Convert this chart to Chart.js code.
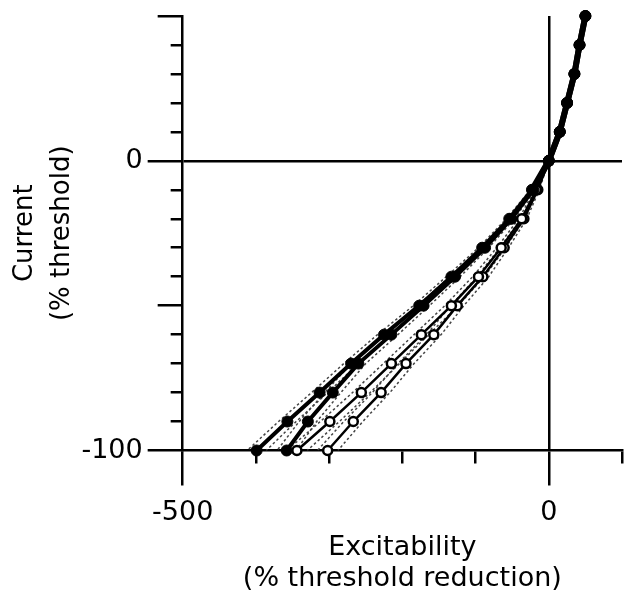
<!DOCTYPE html>
<html><head><meta charset="utf-8">
<script src="https://cdn.jsdelivr.net/npm/chart.js@4.4.1/dist/chart.umd.min.js"></script>
<style>html,body{margin:0;padding:0;background:#fff}#wrap{width:629px;height:600px}</style>
</head><body><div id="wrap"><canvas id="c" width="629" height="600"></canvas></div>
<script>
// Current levels (% threshold)
const currents = [50, 40, 30, 20, 10, 0, -10, -20, -30, -40, -50, -60, -70, -80, -90, -100];
// Threshold reduction (%) for each current level
const filledA = [50, 42, 35, 25, 15, 0, -23, -54, -91, -133, -177, -225, -270, -313, -357, -399];
const filledB = [50, 42, 35, 25, 15, 0, -21, -51, -87, -128, -171, -215, -260, -295, -329, -358];
const openC   = [50, 42, 35, 25, 15, 0, -17, -37, -65, -96, -133, -174, -215, -256, -299, -344];
const openD   = [50, 42, 35, 25, 15, 0, -15, -34, -61, -90, -125, -157, -195, -229, -267, -302];
// SEM half-widths (dashed lines) for current levels 0 ... -100
const semCurrents = [0, -10, -20, -30, -40, -50, -60, -70, -80, -90, -100];
const semA = [0, 2, 4, 5, 7, 8, 9, 10, 11, 12, 13];
const semB = [0, 2, 4, 5, 7, 8, 9, 10, 11, 12, 13];
const semC = [0, 2, 4, 6, 8, 9, 10, 11, 12, 13, 14];
const semD = [0, 2, 4, 6, 8, 9, 10, 11, 12, 13, 14];
// Tick labels
const xLabelled = [-500, 0];
const yLabelled = [0, -100];
const xMajor = [-500, 0];
const yMajor = [0, -100];
const yMid = [50, -50];

const FONT = 'DejaVu Sans';

function pts(vals) { return vals.map((v, i) => ({x: v, y: currents[i]})); }
function band(vals, sem, sign) {
  return semCurrents.map((c, i) => ({x: vals[currents.indexOf(c)] + sign * sem[i], y: c}));
}
const dashStyle = {borderColor: '#444', borderWidth: 1.5, borderDash: [2.5, 2.5], pointRadius: 0, showLine: true, order: 2, fill: false};
const bands = [];
[[filledA, semA], [filledB, semB], [openC, semC], [openD, semD]].forEach(([v, s]) => {
  bands.push(Object.assign({data: band(v, s, -1)}, dashStyle));
  bands.push(Object.assign({data: band(v, s, 1)}, dashStyle));
});
const thickTop = {borderWidth: c => (c.p0.parsed.y >= 0 ? 6 : undefined)};
const filledStyle = {showLine: true, borderColor: '#000', backgroundColor: '#000', borderWidth: 4,
  pointRadius: 5.5, pointBorderWidth: 1, pointBackgroundColor: '#000', pointBorderColor: '#000', order: 0, clip: false,
  segment: thickTop};
const openStyle = {showLine: true, borderColor: '#000', backgroundColor: '#fff', borderWidth: 2.5,
  pointRadius: 4.5, pointBorderWidth: 2.5, pointBackgroundColor: '#fff', pointBorderColor: '#000', order: 1, clip: false};

new Chart(document.getElementById('c'), {
  type: 'scatter',
  data: {
    datasets: [
      Object.assign({label: 'A', data: pts(filledA)}, filledStyle),
      Object.assign({label: 'B', data: pts(filledB)}, filledStyle),
      Object.assign({label: 'C', data: pts(openC)}, openStyle),
      Object.assign({label: 'D', data: pts(openD)}, openStyle),
      ...bands
    ]
  },
  options: {
    responsive: false,
    animation: false,
    devicePixelRatio: 1,
    layout: {padding: {left: 4, top: 0, right: 0, bottom: 4.5}},
    plugins: {legend: {display: false}, tooltip: {enabled: false}},
    scales: {
      x: {
        type: 'linear', min: -500, max: 100,
        border: {display: true, color: '#000', width: 2.5},
        grid: {
          color: c => (c.tick && c.tick.value === 0) ? '#000' : 'rgba(0,0,0,0)',
          lineWidth: 2.5, tickLength: 35, tickWidth: 2.5, tickColor: '#000',
          tickBorderDash: c => (c.tick && xMajor.includes(c.tick.value)) ? [] : [12, 100]
        },
        ticks: {
          stepSize: 100, autoSkip: false, maxRotation: 0, padding: 5.5, color: '#000',
          font: {family: FONT, size: 27, lineHeight: 1.593},
          callback: v => xLabelled.includes(v) ? String(v) : ''
        },
        title: {display: true, text: ['Excitability', '(% threshold reduction)'], color: '#000',
          font: {family: FONT, size: 27, lineHeight: 1.148}, padding: {top: -7, bottom: 1}}
      },
      y: {
        type: 'linear', min: -100, max: 50,
        border: {display: true, color: '#000', width: 2.5},
        grid: {
          color: c => (c.tick && c.tick.value === 0) ? '#000' : 'rgba(0,0,0,0)',
          lineWidth: 2.5, tickLength: 35, tickWidth: 2.5, tickColor: '#000',
          tickBorderDash: c => {
            const v = c.tick ? c.tick.value : null;
            if (yMajor.includes(v)) return [];
            if (yMid.includes(v)) return [0, 10, 25, 100];
            return [0, 23, 12, 100];
          }
        },
        ticks: {
          stepSize: 10, autoSkip: false, padding: 5, color: '#000',
          font: {family: FONT, size: 27, lineHeight: 0.815},
          callback: v => yLabelled.includes(v) ? String(v) : ''
        },
        title: {display: true, text: ['Current', '(% threshold)'], color: '#000',
          font: {family: FONT, size: 26, lineHeight: 1.423}, padding: {top: 2.5, bottom: -4.1}}
      }
    }
  }
});
</script>
</body></html>
